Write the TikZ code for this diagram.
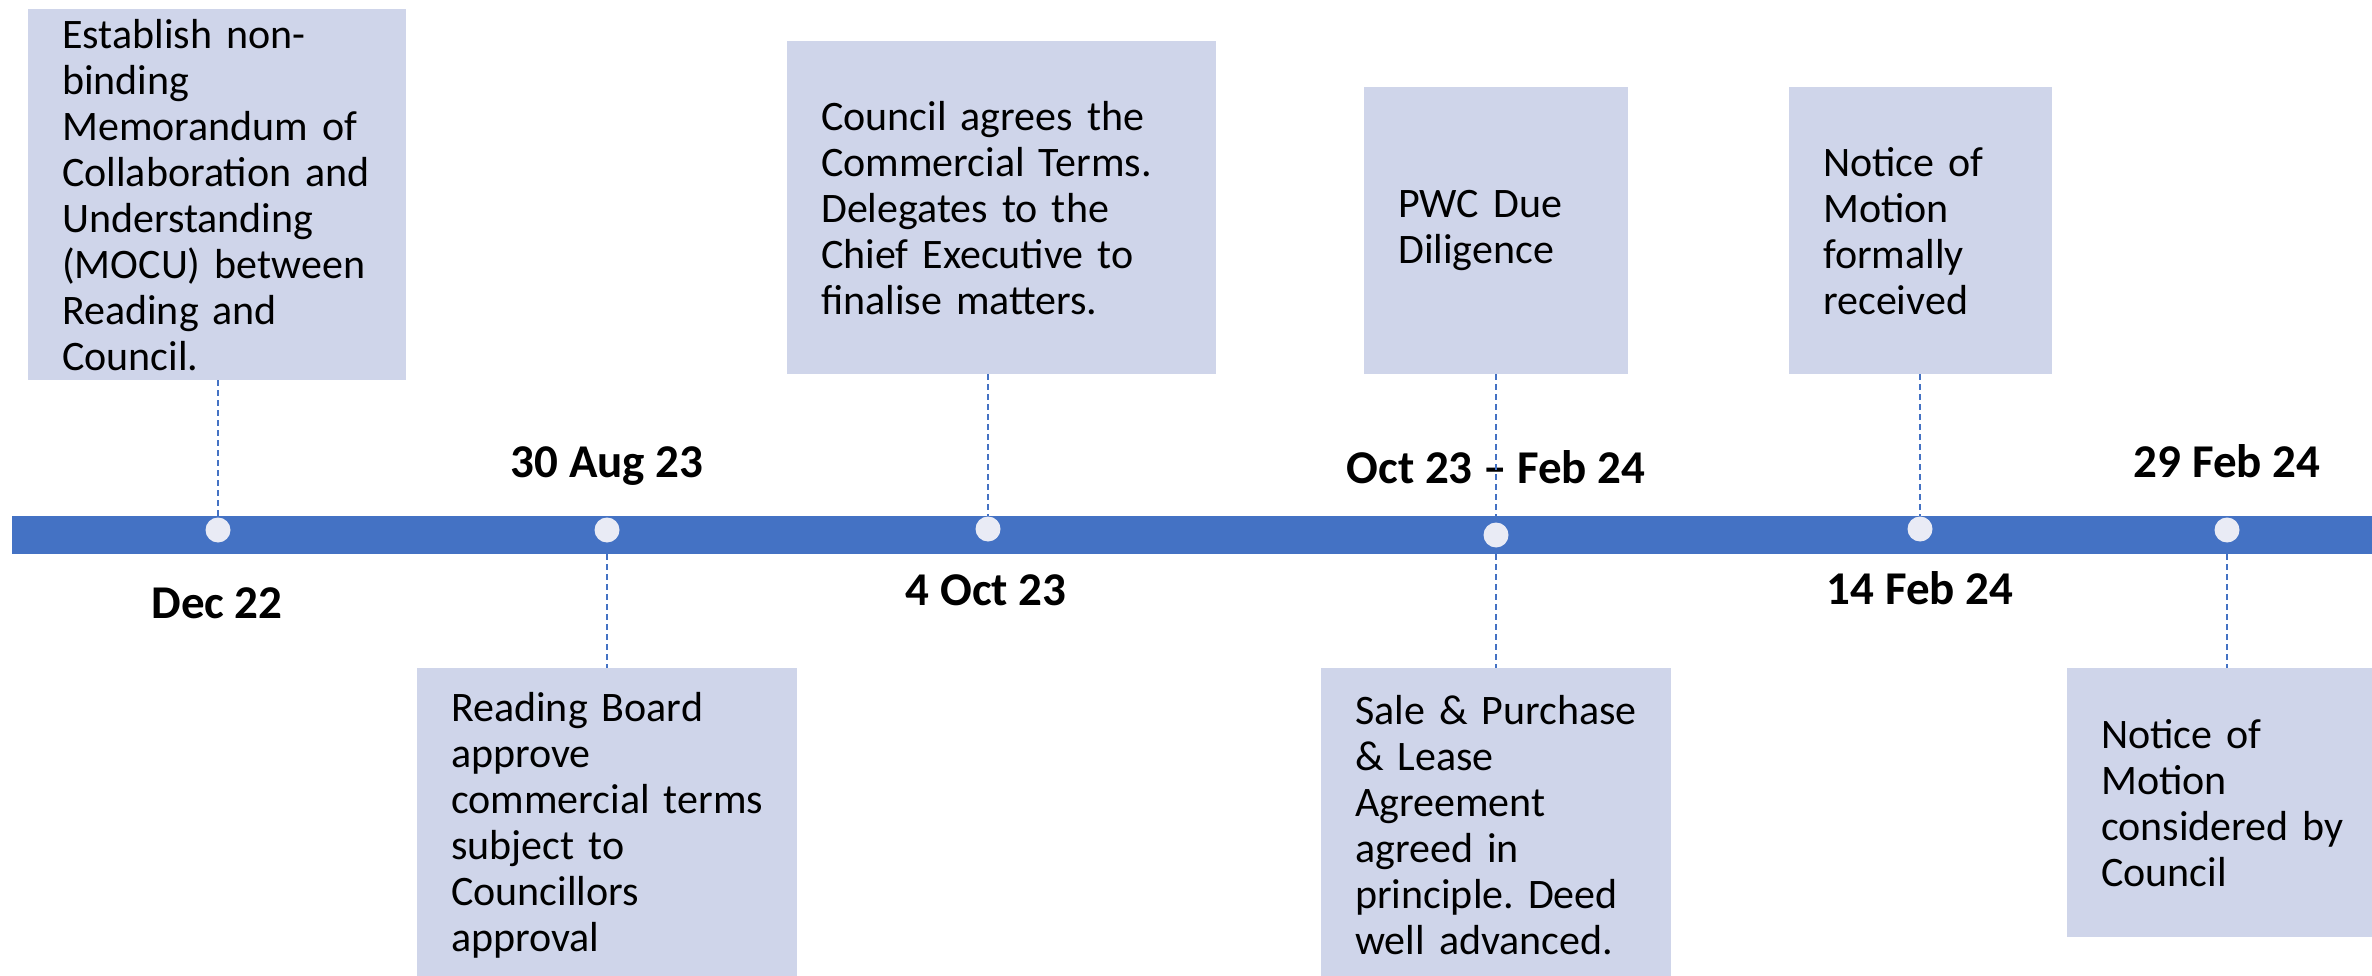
\documentclass[tikz,border=0pt]{standalone}
\usepackage{fontspec}
\setmainfont{Carlito}
\definecolor{barblue}{HTML}{4472C4}
\definecolor{boxfill}{HTML}{CFD5EA}
\definecolor{dotfill}{HTML}{E9EBF5}
\newcommand\bxfont{\fontsize{42}{46}\selectfont}
\newcommand\dtfont{\fontsize{47}{50}\selectfont\bfseries}
\tikzset{
  evbox/.style={fill=boxfill, draw=none, anchor=north west, inner xsep=34pt, inner ysep=0pt, align=left, font=\bxfont},
  datelbl/.style={font=\dtfont, anchor=base, inner sep=0pt},
  tickline/.style={draw=barblue, line width=1.5pt, dash pattern=on 6pt off 4pt},
  dotmark/.style={circle, fill=dotfill, draw=none, minimum size=25pt, inner sep=0pt},
  barstyle/.style={fill=barblue, draw=none, inner sep=0pt, anchor=north west}
}
\begin{document}
\begin{tikzpicture}[x=1pt,y=-1pt]
\useasboundingbox (0,0) rectangle (2372,976);
\clip (0,0) rectangle (2372,976);
% timeline bar
\node[barstyle, minimum width=2380pt, minimum height=38pt] (bar) at (12,516) {};
% dots
\node[dotmark] (d1) at (218,530) {};
\node[dotmark] (d2) at (607,530) {};
\node[dotmark] (d3) at (988,529) {};
\node[dotmark] (d4) at (1496,535) {};
\node[dotmark] (d5) at (1920,529) {};
\node[dotmark] (d6) at (2227,530) {};
% boxes above
\node[evbox, text width=310pt, minimum height=371pt] (b1) at (28,9)
  {Establish non-\\binding\\Memorandum~of\\Collaboration~and\\Understanding\\(MOCU)~between\\Reading~and\\Council.};
\node[evbox, text width=361pt, minimum height=333pt] (b2) at (787,41)
  {Council~agrees~the\\Commercial~Terms.\\Delegates~to~the\\Chief~Executive~to\\finalise~matters.};
\node[evbox, text width=196pt, minimum height=287pt] (b3) at (1364,87)
  {PWC~Due\\Diligence};
\node[evbox, text width=195pt, minimum height=287pt] (b4) at (1789,87)
  {Notice~of\\Motion\\formally\\received};
% boxes below
\node[evbox, text width=312pt, minimum height=314pt] (b5) at (417,668)
  {Reading~Board\\approve\\commercial~terms\\subject~to\\Councillors\\approval};
\node[evbox, text width=282pt, minimum height=314pt] (b6) at (1321,668)
  {Sale~\&~Purchase\\\&~Lease\\Agreement\\agreed~in\\principle.~Deed\\well~advanced.};
\node[evbox, text width=262pt, minimum height=269pt] (b7) at (2067,668)
  {Notice~of\\Motion\\considered~by\\Council};
% date labels
\node[datelbl] (l1) at (217,618) {Dec 22};
\node[datelbl] (l2) at (607,477) {30 Aug 23};
\node[datelbl] (l3) at (986,605) {4 Oct 23};
\node[datelbl] (l4) at (1496,483) {Oct 23 – Feb 24};
\node[datelbl] (l5) at (1920,604) {14 Feb 24};
\node[datelbl] (l6) at (2227,477) {29 Feb 24};
% connectors
\draw[tickline] (d1 |- b1.south) -- (d1 |- bar.north);
\draw[tickline] (d2 |- bar.south) -- (d2 |- b5.north);
\draw[tickline] (d3 |- b2.south) -- (d3 |- bar.north);
\draw[tickline] (d4 |- b3.south) -- (d4 |- bar.north);
\draw[tickline] (d4 |- bar.south) -- (d4 |- b6.north);
\draw[tickline] (d5 |- b4.south) -- (d5 |- bar.north);
\draw[tickline] (d6 |- bar.south) -- (d6 |- b7.north);
\end{tikzpicture}
\end{document}
